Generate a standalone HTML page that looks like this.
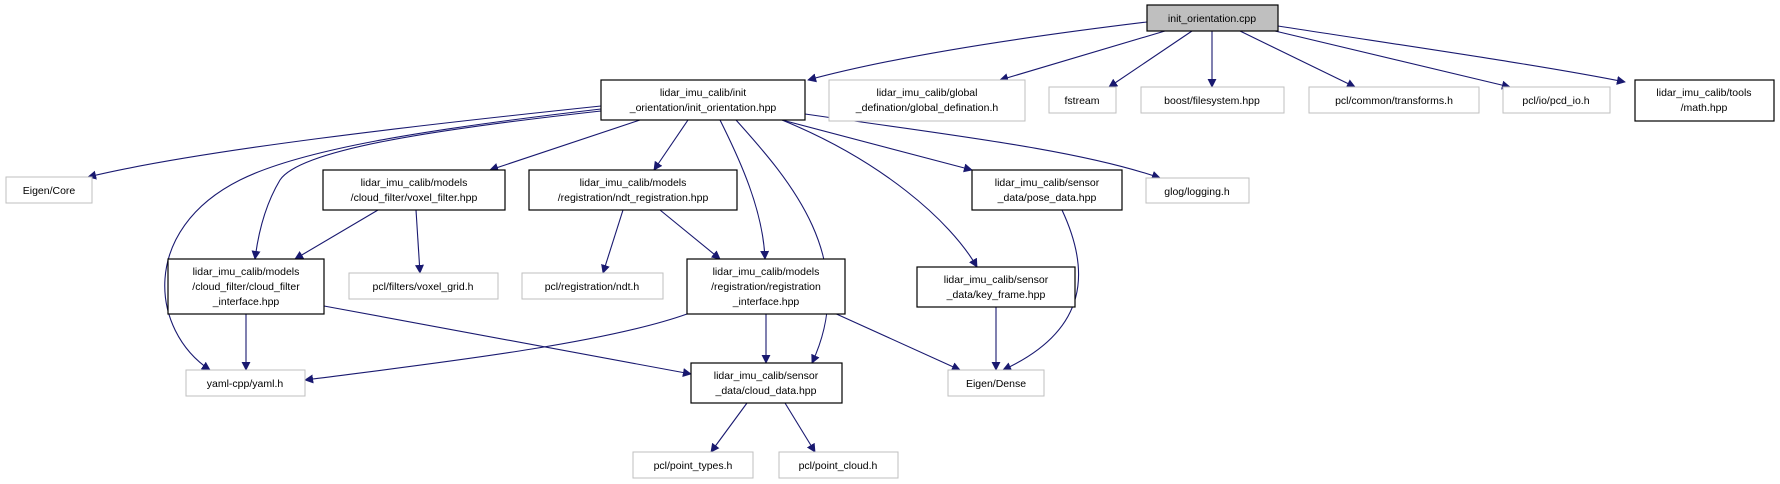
<!DOCTYPE html>
<html><head><meta charset="utf-8"><style>
html,body{margin:0;padding:0;background:#fff;}
svg{display:block;}
text{font-family:"Liberation Sans",sans-serif;font-size:10.5px;fill:#000;text-anchor:middle;}
.b{fill:#fff;stroke:#000;stroke-width:1.2;}
.g{fill:#fff;stroke:#bfbfbf;stroke-width:1;}
.e{fill:none;stroke:#191970;stroke-width:1.1;marker-end:url(#a);}
</style></head><body>
<svg width="1780" height="484" viewBox="0 0 1780 484" xmlns="http://www.w3.org/2000/svg">
<defs><marker id="a" viewBox="0 0 10 10" refX="9" refY="5" markerWidth="9" markerHeight="9" markerUnits="userSpaceOnUse" orient="auto"><path d="M0,0 L10,5 L0,10 z" fill="#191970"/></marker></defs>
<!-- edges -->
<path class="e" d="M1147,22 C1040,35 900,55 808,80"/>
<path class="e" d="M1165,31 L1000,80"/>
<path class="e" d="M1192,31 L1109,87"/>
<path class="e" d="M1212,31 L1212,87"/>
<path class="e" d="M1240,31 L1355,87"/>
<path class="e" d="M1275,31 L1510,87"/>
<path class="e" d="M1278,26 C1400,45 1540,65 1625,82"/>
<path class="e" d="M601,106 C420,125 200,150 88,177"/>
<path class="e" d="M601,109 C420,130 300,150 240,180 C140,230 150,330 210,370"/>
<path class="e" d="M601,111 C430,130 300,150 280,180 C265,205 258,235 255,259"/>
<path class="e" d="M640,120 L490,170"/>
<path class="e" d="M688,120 L654,170"/>
<path class="e" d="M720,120 C740,160 763,210 765,259"/>
<path class="e" d="M736,120 C790,180 860,260 812,363"/>
<path class="e" d="M782,120 L972,170"/>
<path class="e" d="M782,120 C880,160 950,220 977,267"/>
<path class="e" d="M805,114 C950,135 1080,150 1160,178"/>
<path class="e" d="M378,210 L295,259"/>
<path class="e" d="M416,210 L420,273"/>
<path class="e" d="M623,210 L603,273"/>
<path class="e" d="M660,210 L720,259"/>
<path class="e" d="M246,314 L246,370"/>
<path class="e" d="M324,306 L691,374"/>
<path class="e" d="M687,314 C600,345 420,365 305,380"/>
<path class="e" d="M766,314 L766,363"/>
<path class="e" d="M832,312 L960,370"/>
<path class="e" d="M996,307 L996,370"/>
<path class="e" d="M1062,210 C1090,270 1090,330 1003,370"/>
<path class="e" d="M747,403 L711,452"/>
<path class="e" d="M785,403 L815,452"/>
<!-- nodes -->
<rect x="1147" y="5" width="131" height="26" fill="#bfbfbf" stroke="#000" stroke-width="1.2"/><text x="1212" y="22">init_orientation.cpp</text>
<rect class="b" x="601" y="80" width="204" height="40"/><text x="703" y="96">lidar_imu_calib/init</text><text x="703" y="111">_orientation/init_orientation.hpp</text>
<rect class="g" x="829" y="80" width="196" height="41"/><text x="927" y="96">lidar_imu_calib/global</text><text x="927" y="111">_defination/global_defination.h</text>
<rect class="g" x="1049" y="87" width="67" height="26"/><text x="1082" y="104">fstream</text>
<rect class="g" x="1141" y="87" width="143" height="26"/><text x="1212" y="104">boost/filesystem.hpp</text>
<rect class="g" x="1309" y="87" width="170" height="26"/><text x="1394" y="104">pcl/common/transforms.h</text>
<rect class="g" x="1503" y="87" width="107" height="26"/><text x="1556" y="104">pcl/io/pcd_io.h</text>
<rect class="b" x="1635" y="80" width="139" height="41"/><text x="1704" y="96">lidar_imu_calib/tools</text><text x="1704" y="111">/math.hpp</text>
<rect class="g" x="6" y="177" width="86" height="26"/><text x="49" y="194">Eigen/Core</text>
<rect class="b" x="323" y="170" width="182" height="40"/><text x="414" y="186">lidar_imu_calib/models</text><text x="414" y="201">/cloud_filter/voxel_filter.hpp</text>
<rect class="b" x="529" y="170" width="208" height="40"/><text x="633" y="186">lidar_imu_calib/models</text><text x="633" y="201">/registration/ndt_registration.hpp</text>
<rect class="b" x="972" y="170" width="150" height="40"/><text x="1047" y="186">lidar_imu_calib/sensor</text><text x="1047" y="201">_data/pose_data.hpp</text>
<rect class="g" x="1146" y="178" width="103" height="25"/><text x="1197" y="195">glog/logging.h</text>
<rect class="b" x="168" y="259" width="156" height="55"/><text x="246" y="275">lidar_imu_calib/models</text><text x="246" y="290">/cloud_filter/cloud_filter</text><text x="246" y="305">_interface.hpp</text>
<rect class="g" x="349" y="273" width="149" height="26"/><text x="423" y="290">pcl/filters/voxel_grid.h</text>
<rect class="g" x="522" y="273" width="141" height="26"/><text x="592" y="290">pcl/registration/ndt.h</text>
<rect class="b" x="687" y="259" width="158" height="55"/><text x="766" y="275">lidar_imu_calib/models</text><text x="766" y="290">/registration/registration</text><text x="766" y="305">_interface.hpp</text>
<rect class="b" x="917" y="267" width="158" height="40"/><text x="996" y="283">lidar_imu_calib/sensor</text><text x="996" y="298">_data/key_frame.hpp</text>
<rect class="g" x="186" y="370" width="119" height="26"/><text x="245" y="387">yaml-cpp/yaml.h</text>
<rect class="b" x="691" y="363" width="151" height="40"/><text x="766" y="379">lidar_imu_calib/sensor</text><text x="766" y="394">_data/cloud_data.hpp</text>
<rect class="g" x="948" y="370" width="96" height="26"/><text x="996" y="387">Eigen/Dense</text>
<rect class="g" x="633" y="452" width="120" height="26"/><text x="693" y="469">pcl/point_types.h</text>
<rect class="g" x="779" y="452" width="119" height="26"/><text x="838" y="469">pcl/point_cloud.h</text>
</svg>
</body></html>
